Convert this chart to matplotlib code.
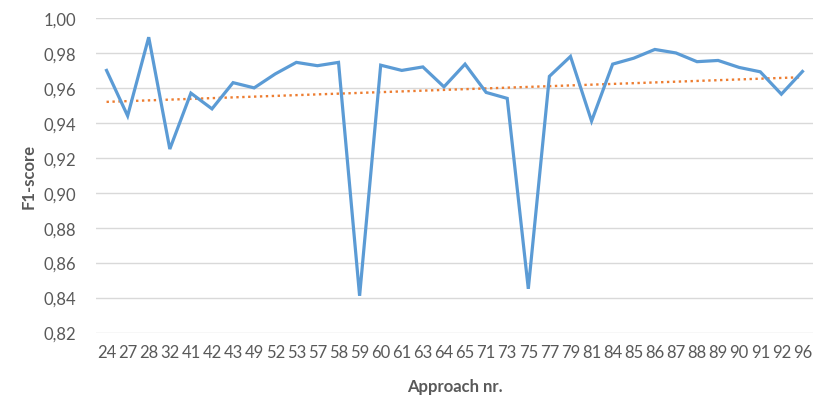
import numpy as np
import matplotlib.pyplot as plt
from matplotlib.ticker import FuncFormatter

plt.rcParams['font.family'] = ['Lato', 'DejaVu Sans']

# Approach numbers and F1-scores
approaches = ['24', '27', '28', '32', '41', '42', '43', '49', '52', '53', '57', '58',
              '59', '60', '61', '63', '64', '65', '71', '73', '75', '77', '79', '81',
              '84', '85', '86', '87', '88', '89', '90', '91', '92', '96']
f1_scores = [0.970, 0.944, 0.989, 0.925, 0.957, 0.948, 0.963, 0.960, 0.968, 0.9746,
             0.9727, 0.9746, 0.841, 0.973, 0.970, 0.972, 0.9606, 0.9736, 0.9574, 0.954,
             0.845, 0.9666, 0.978, 0.941, 0.9736, 0.977, 0.982, 0.980, 0.975, 0.9757,
             0.9717, 0.9692, 0.9564, 0.9694]

x = np.arange(len(approaches))
# linear trendline like the spreadsheet one
slope, intercept = np.polyfit(x, f1_scores, 1)
trend = slope * x + intercept

fig = plt.figure(figsize=(8.31, 4.14), dpi=100)
ax = fig.add_axes([96/831, 1 - 333.5/414, (813 - 96)/831, (333.5 - 19)/414])

ax.plot(x, f1_scores, color='#5B9BD5', lw=2.3, solid_joinstyle='miter', zorder=3)
ax.plot(x, trend, color='#ED7D31', lw=1.7, linestyle=(0, (1, 1.5)), zorder=2)

ax.set_xlim(-0.5, len(approaches) - 0.5)
ax.set_ylim(0.82, 1.00)
ax.set_yticks(np.arange(0.82, 1.001, 0.02))
ax.yaxis.set_major_formatter(FuncFormatter(lambda v, p: f'{v:.2f}'.replace('.', ',')))
ax.set_xticks(x)
ax.set_xticklabels(approaches)

ax.grid(axis='y', color='#D9D9D9', lw=1)
ax.set_axisbelow(True)
for s in ax.spines.values():
    s.set_visible(False)
ax.tick_params(axis='both', length=0, labelsize=12, colors='#595959')
ax.tick_params(axis='y', pad=14)
ax.tick_params(axis='x', pad=8)

ax.set_xlabel('Approach nr.', fontsize=12, fontweight='bold', color='#595959', labelpad=13)
ax.set_ylabel('F1-score', fontsize=12, fontweight='bold', color='#595959', labelpad=5)

fig.savefig('out.png', dpi=100)
